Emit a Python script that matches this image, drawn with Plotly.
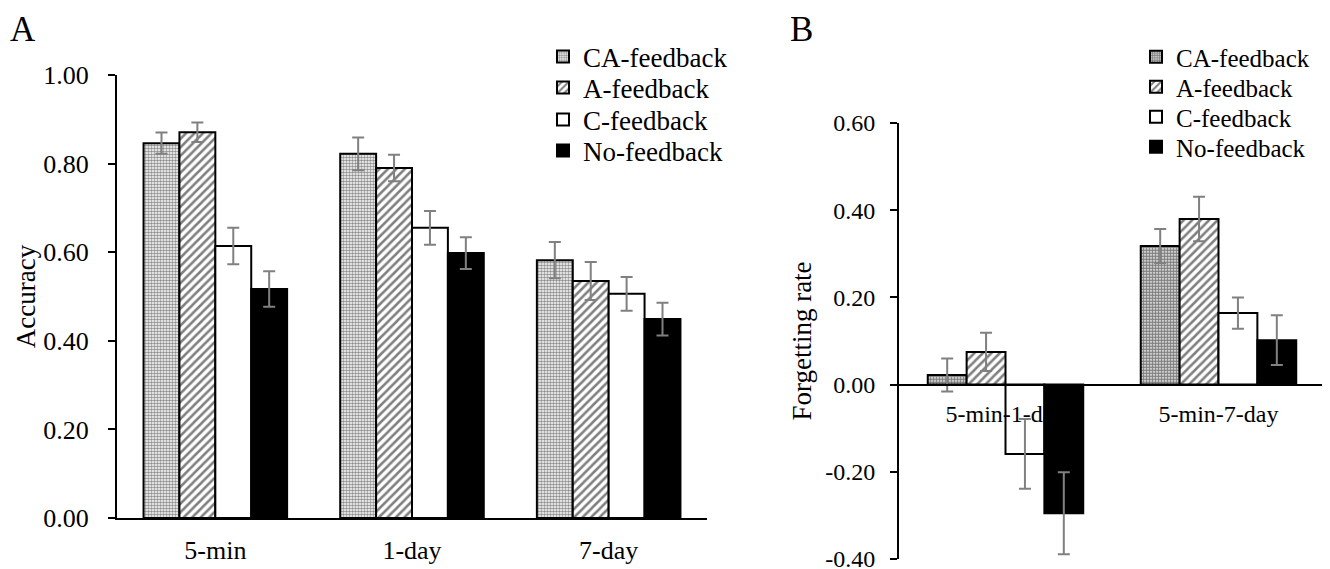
import plotly.graph_objects as go

# ---------------- data ----------------
groups = ["CA-feedback", "A-feedback", "C-feedback", "No-feedback"]

# Panel A: accuracy
cats_a = ["5-min", "1-day", "7-day"]
acc_ca = [0.846, 0.822, 0.582]
acc_a = [0.871, 0.790, 0.535]
acc_c = [0.614, 0.655, 0.506]
acc_no = [0.517, 0.598, 0.449]
acc_ca_err = [0.024, 0.037, 0.041]
acc_a_err = [0.022, 0.030, 0.043]
acc_c_err = [0.041, 0.038, 0.038]
acc_no_err = [0.040, 0.036, 0.037]

# Panel B: forgetting rate
cats_b = ["5-min-1-day", "5-min-7-day"]
fr_ca = [0.022, 0.318]
fr_a = [0.075, 0.380]
fr_c = [-0.159, 0.164]
fr_no = [-0.295, 0.102]
fr_ca_err = [0.038, 0.039]
fr_a_err = [0.044, 0.051]
fr_c_err = [0.080, 0.036]
fr_no_err = [0.094, 0.057]

yticks_a = [0.0, 0.2, 0.4, 0.6, 0.8, 1.0]
yticklabels_a = ["0.00", "0.20", "0.40", "0.60", "0.80", "1.00"]
yticks_b = [-0.4, -0.2, 0.0, 0.2, 0.4, 0.6]
yticklabels_b = ["-0.40", "-0.20", "0.00", "0.20", "0.40", "0.60"]

# ---------------- style ----------------
FONT = "Liberation Serif"
OFF = 8                      # page body margin in the browser
W, H = 1330 - OFF, 569 - OFF  # figure size so that it fills the window


def fx(px):
    return (px - OFF) / W


def fy(py):
    return 1 - (py - OFF) / H


ERR_COL = "#808080"

patterns_a = [
    dict(shape=".", fgcolor="#1e1e1e", bgcolor="white", size=3, solidity=0.55),
    dict(shape="/", fgcolor="black", bgcolor="white", size=6, solidity=0.42),
    dict(shape="", bgcolor="white"),
    dict(shape="", bgcolor="black"),
]
patterns_b = [
    dict(shape=".", fgcolor="black", bgcolor="white", size=3, solidity=0.72),
    dict(shape="/", fgcolor="black", bgcolor="white", size=6, solidity=0.42),
    dict(shape="", bgcolor="white"),
    dict(shape="", bgcolor="black"),
]
fills = ["white", "white", "white", "black"]

# legend item centres (pixels from top) and left positions
leg_a_x, leg_a_y = 543, [57, 88, 120, 151]
leg_b_x, leg_b_y = 1136, [57, 87, 117, 147]

fig = go.Figure()

vals_a = [acc_ca, acc_a, acc_c, acc_no]
errs_a = [acc_ca_err, acc_a_err, acc_c_err, acc_no_err]
vals_b = [fr_ca, fr_a, fr_c, fr_no]
errs_b = [fr_ca_err, fr_a_err, fr_c_err, fr_no_err]

legends = {}
for i, (g, v, e, p, f) in enumerate(zip(groups, vals_a, errs_a, patterns_a, fills)):
    lname = "legend" if i == 0 else f"legend{i + 1}"
    legends[lname] = dict(x=fx(leg_a_x), y=fy(leg_a_y[i]), xanchor="left",
                          yanchor="middle",
                          font=dict(family=FONT, size=27, color="black"),
                          bgcolor="rgba(0,0,0,0)")
    fig.add_trace(go.Bar(
        x=cats_a, y=v, name=g, xaxis="x", yaxis="y", legend=lname,
        showlegend=True,
        marker=dict(color=f, pattern=p, line=dict(color="black", width=2)),
        error_y=dict(type="data", array=e, visible=True, color=ERR_COL,
                     thickness=2, width=6),
    ))

for i, (g, v, e, p, f) in enumerate(zip(groups, vals_b, errs_b, patterns_b, fills)):
    lname = f"legend{i + 5}"
    legends[lname] = dict(x=fx(leg_b_x), y=fy(leg_b_y[i]), xanchor="left",
                          yanchor="middle",
                          font=dict(family=FONT, size=25, color="black"),
                          bgcolor="rgba(0,0,0,0)")
    fig.add_trace(go.Bar(
        x=cats_b, y=v, name=g, xaxis="x2", yaxis="y2", legend=lname,
        showlegend=True,
        marker=dict(color=f, pattern=p, line=dict(color="black", width=2)),
        error_y=dict(type="data", array=e, visible=True, color=ERR_COL,
                     thickness=2, width=6),
    ))

# domains (paper fractions)
ax_a = [fx(117), fx(707)]
ay_a = [fy(518), fy(75)]
ax_b = [fx(899), fx(1325)]
ay_b = [fy(559), fy(123)]
rb = [-0.4, 0.6]
zero_pos_b = ay_b[0] + (0 - rb[0]) / (rb[1] - rb[0]) * (ay_b[1] - ay_b[0])

tickfont_a = dict(family=FONT, size=26, color="black")
tickfont_b = dict(family=FONT, size=24, color="black")

fig.update_layout(
    width=W, height=H,
    showlegend=True,
    margin=dict(l=0, r=0, t=0, b=0, autoexpand=False),
    paper_bgcolor="white", plot_bgcolor="white",
    font=dict(family=FONT, color="black"),
    barmode="group",
    bargap=0.27, bargroupgap=0,
    xaxis=dict(domain=ax_a, anchor="y", showline=True, linecolor="black",
               linewidth=2, ticks="", tickfont=tickfont_a, showgrid=False,
               ticklabelstandoff=8, automargin=False),
    yaxis=dict(domain=ay_a, anchor="x", range=[0, 1.0], tickvals=yticks_a,
               ticktext=yticklabels_a, showline=True, linecolor="black",
               linewidth=2, ticks="outside", ticklen=7, tickwidth=2,
               tickcolor="black", tickfont=tickfont_a, showgrid=False,
               zeroline=False, ticklabelstandoff=14, automargin=False,
               ticklabeloverflow="allow",
               title=dict(text="Accuracy", font=dict(family=FONT, size=27),
                          standoff=0)),
    xaxis2=dict(domain=ax_b, anchor="free", position=zero_pos_b, showline=True,
                linecolor="black", linewidth=2, ticks="", tickfont=tickfont_b,
                showgrid=False, ticklabelstandoff=8, automargin=False),
    yaxis2=dict(domain=ay_b, anchor="x2", range=rb, tickvals=yticks_b,
                ticktext=yticklabels_b, showline=True, linecolor="black",
                linewidth=2, ticks="outside", ticklen=7, tickwidth=2,
                tickcolor="black", tickfont=tickfont_b, showgrid=False,
                zeroline=False, ticklabelstandoff=10, automargin=False,
                ticklabeloverflow="allow",
                title=dict(text="Forgetting rate", font=dict(family=FONT, size=27),
                           standoff=6)),
    annotations=[
        dict(text="A", x=fx(8), y=fy(8), xref="paper", yref="paper",
             xanchor="left", yanchor="top", showarrow=False,
             font=dict(family=FONT, size=35, color="black")),
        dict(text="B", x=fx(788), y=fy(8), xref="paper", yref="paper",
             xanchor="left", yanchor="top", showarrow=False,
             font=dict(family=FONT, size=35, color="black")),
    ],
    **legends,
)

fig.write_html("out.html")
